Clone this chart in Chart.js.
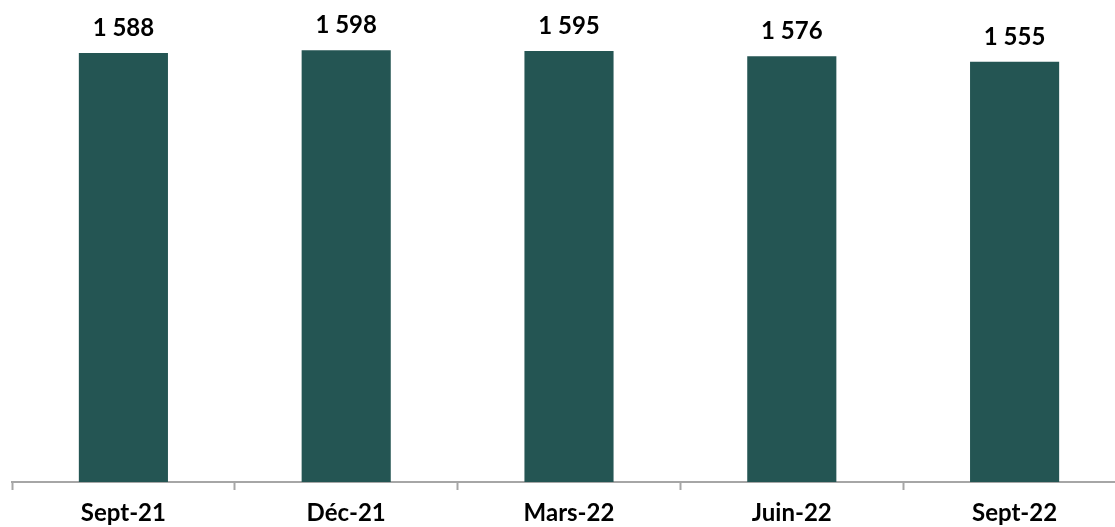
<!DOCTYPE html>
<html>
<head>
<meta charset="utf-8">
<script src="https://cdn.jsdelivr.net/npm/chart.js@4"></script>
<style>
html,body{margin:0;padding:0;background:#fff;overflow:hidden;}
#wrap{width:1115px;height:527px;overflow:hidden;}
</style>
</head>
<body>
<div id="wrap"><canvas id="c" width="1126" height="537"></canvas></div>
<script>
const categories = ['Sept-21', 'Déc-21', 'Mars-22', 'Juin-22', 'Sept-22'];
const values = [1588, 1598, 1595, 1576, 1555];
const valueLabels = ['1 588', '1 598', '1 595', '1 576', '1 555'];

const FONT = 'Lato, "Open Sans", sans-serif';

const labelPlugin = {
  id: 'valueLabels',
  afterDatasetsDraw(chart) {
    const ctx = chart.ctx;
    const meta = chart.getDatasetMeta(0);
    ctx.save();
    ctx.font = 'bold 24px ' + FONT;
    ctx.fillStyle = '#000';
    ctx.textAlign = 'center';
    ctx.textBaseline = 'middle';
    meta.data.forEach((bar, i) => {
      ctx.fillText(valueLabels[i], bar.x, bar.y - 25);
    });
    ctx.restore();
  }
};

new Chart(document.getElementById('c'), {
  type: 'bar',
  data: {
    labels: categories,
    datasets: [{
      data: values,
      backgroundColor: '#245553',
      borderWidth: 0,
      categoryPercentage: 1,
      barPercentage: 0.4
    }]
  },
  options: {
    responsive: false,
    animation: false,
    devicePixelRatio: 1,
    layout: { padding: { left: 12, right: 0, top: 0, bottom: 0 } },
    plugins: { legend: { display: false }, tooltip: { enabled: false } },
    scales: {
      y: { display: false, min: 0, max: 1784 },
      x: {
        offset: true,
        border: { display: true, color: '#a6a6a6', width: 2 },
        grid: {
          offset: true,
          drawOnChartArea: false,
          drawTicks: true,
          tickLength: 8,
          tickWidth: 2,
          tickColor: '#a6a6a6',
          color: '#a6a6a6'
        },
        ticks: {
          color: '#000',
          padding: 11.5,
          maxRotation: 0,
          font: { family: FONT, size: 24, weight: 'bold', lineHeight: 1 }
        }
      }
    }
  },
  plugins: [labelPlugin]
});
</script>
</body>
</html>
